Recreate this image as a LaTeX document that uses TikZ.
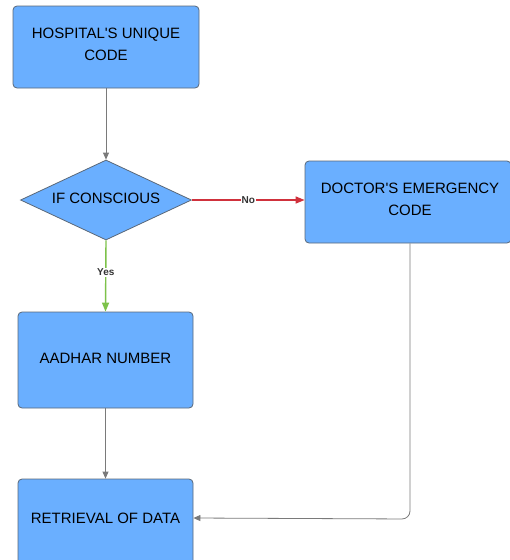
\documentclass[tikz,border=0pt]{standalone}
\usepackage{fontspec}
\setmainfont{Liberation Sans}
\usetikzlibrary{shapes.geometric,arrows.meta}
\definecolor{boxfill}{HTML}{6AAFFF}
\definecolor{boxline}{HTML}{5A6878}
\definecolor{noline}{HTML}{D0313C}
\definecolor{yesline}{HTML}{7DC24A}
\definecolor{arrline}{HTML}{7A7A7A}
\begin{document}
\begin{tikzpicture}[x=1pt,y=-1pt,
  box/.style={draw=boxline,fill=boxfill,rounded corners=4pt,line width=0.8pt,
    font=\fontsize{15}{22}\selectfont,align=center,inner sep=0pt},
  decision/.style={diamond,draw=boxline,fill=boxfill,line width=0.8pt,
    font=\fontsize{15}{22}\selectfont,inner sep=0pt},
  conn/.style={draw=arrline,line width=0.8pt,-{Triangle[length=7pt,width=6pt]}},
  lbl/.style={font=\bfseries\fontsize{10}{12}\selectfont,fill=white,inner sep=1pt}]
\useasboundingbox (0,0) rectangle (510,560);
\node[box,minimum width=186pt,minimum height=82pt] (hosp) at (106,47) {};
\node[font=\fontsize{15}{22}\selectfont,align=center] (hosptext) at (106,44) {HOSPITAL\textquotesingle S UNIQUE\\CODE};
\node[decision,minimum width=171pt,minimum height=80pt] (cons) at (106,200) {};
\node[font=\fontsize{15}{22}\selectfont] (constext) at (106,198) {IF CONSCIOUS};
\node[box,minimum width=206pt,minimum height=82pt] (doc) at (408,202) {};
\node[font=\fontsize{15}{22}\selectfont,align=center] (doctext) at (410,199) {DOCTOR\textquotesingle S EMERGENCY\\CODE};
\node[box,minimum width=175pt,minimum height=96pt] (aad) at (105.5,360) {};
\node[font=\fontsize{15}{22}\selectfont] (aadtext) at (105.5,358) {AADHAR NUMBER};
\node[box,minimum width=175pt,minimum height=96pt] (ret) at (105.5,527) {};
\node[font=\fontsize{15}{22}\selectfont] (rettext) at (105.5,518) {RETRIEVAL OF DATA};
\coordinate (corner) at (410,519);
\draw[conn] (hosp.south) -- (cons.north);
\draw[conn,draw=noline,line width=1.4pt,-{Triangle[length=9pt,width=7pt]},color=noline] (cons.east) -- node[lbl,text=black!80] (nolbl) {No} (doc.west |- cons.east);
\draw[conn,draw=yesline,line width=1.4pt,color=yesline,-{Triangle[length=9pt,width=7pt]}] (cons.south) -- node[lbl,text=black!80,pos=0.45] (yeslbl) {Yes} (aad.north);
\draw[conn] (aad.south) -- (ret.north);
\draw[conn,rounded corners=8pt] (doc.south -| corner) -- (corner) -- (rettext.east -| ret.east);
\end{tikzpicture}
\end{document}
